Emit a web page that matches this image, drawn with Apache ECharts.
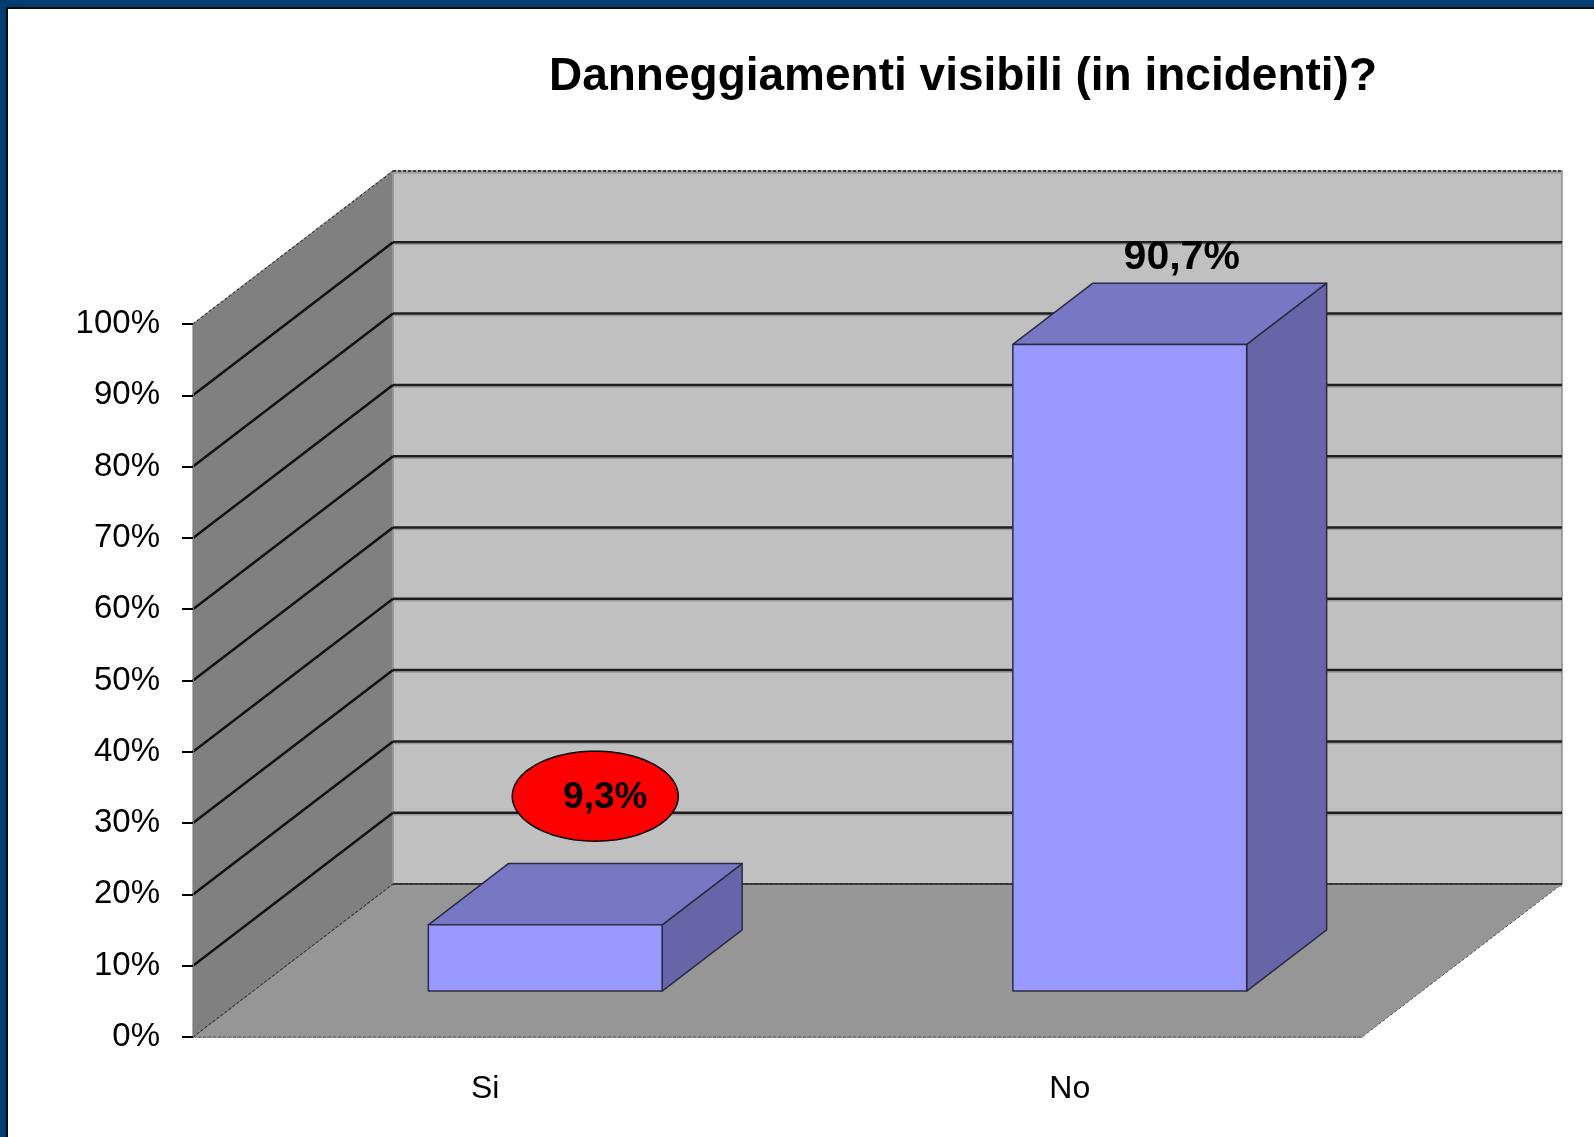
<!DOCTYPE html>
<html>
<head>
<meta charset="utf-8">
<title>Danneggiamenti visibili (in incidenti)?</title>
<script src="https://cdn.jsdelivr.net/npm/echarts/dist/echarts.min.js"></script>
<style>
html, body { margin: 0; padding: 0; background: #fff; }
#chart { position: absolute; left: 0; top: 0; width: 1594px; height: 1137px; }
#frame { position: absolute; left: 0; top: 0; width: 1594px; height: 1137px; box-sizing: border-box;
         border-top: 7px solid #003e6f; border-left: 6px solid #003e6f; pointer-events: none; }
#frame div { width: 100%; height: 100%; box-sizing: border-box; border-top: 2px solid #0a0a0a; border-left: 2px solid #0a0a0a; }
</style>
</head>
<body>
<div id="chart"></div>
<div id="frame"><div></div></div>
<script>
// dati
const categories = ['Si', 'No'];
const percentages = [9.3, 90.7];
const yTicks = [0, 10, 20, 30, 40, 50, 60, 70, 80, 90, 100];
const calloutCategory = 'Si'; // etichetta evidenziata con l'ellisse rossa

// finta prospettiva 3D (pixel)
const DX = 200, DY = -153;
const BAR_FRONT = 0.3, BAR_DEPTH = 0.4, BAR_WIDTH = 0.4;
const FONT = '"Liberation Sans", Arial, sans-serif';

function fmt(v) {
    return v.toFixed(1).replace('.', ',') + '%';
}

function renderWalls(params, api) {
    const cs = params.coordSys;
    const x0 = cs.x, x1 = cs.x + cs.width;
    const yb = api.coord([0, yTicks[0]])[1];
    const yt = api.coord([0, yTicks[yTicks.length - 1]])[1];
    return {
        type: 'group',
        children: [
            { type: 'polygon', shape: { points: [[x0 + DX, yt + DY], [x1 + DX, yt + DY], [x1 + DX, yb + DY], [x0 + DX, yb + DY]] },
              style: { fill: '#c0c0c0', stroke: '#8c8c8c', lineWidth: 1.5 } },
            { type: 'polygon', shape: { points: [[x0, yb], [x0 + DX, yb + DY], [x0 + DX, yt + DY], [x0, yt]] },
              style: { fill: '#808080', stroke: '#9a9a9a', lineWidth: 1.5 } },
            { type: 'polygon', shape: { points: [[x0, yb], [x1, yb], [x1 + DX, yb + DY], [x0 + DX, yb + DY]] },
              style: { fill: '#969696', stroke: '#555', lineWidth: 1, lineDash: [3, 2] } }
        ]
    };
}

function renderGridLines(params, api) {
    const cs = params.coordSys;
    const x0 = cs.x, x1 = cs.x + cs.width;
    const v = api.value(1);
    const y = api.coord([0, v])[1];
    const edge = v === yTicks[0] || v === yTicks[yTicks.length - 1];
    return {
        type: 'group',
        children: [
            { type: 'line', shape: { x1: x0 + DX, y1: y + DY + 2, x2: x1 + DX, y2: y + DY + 2 },
              style: { stroke: '#9a9a9a', lineWidth: 1.5 } },
            { type: 'line', shape: { x1: x0 + DX, y1: y + DY, x2: x1 + DX, y2: y + DY },
              style: { stroke: '#1e1e1e', lineWidth: edge ? 1.5 : 2.5, lineDash: v === yTicks[yTicks.length - 1] ? [3, 2] : null } },
            { type: 'line', shape: { x1: x0, y1: y, x2: x0 + DX, y2: y + DY },
              style: { stroke: edge ? '#3c3c3c' : '#111', lineWidth: edge ? 1.2 : 2.5, lineDash: edge ? [3, 2] : null } }
        ]
    };
}

function renderBars(params, api) {
    const idx = api.value(0);
    const v = api.value(1);
    const base = api.coord([idx, 0]);
    const top = api.coord([idx, v]);
    const w = api.size([1, 0])[0] * BAR_WIDTH;
    const ox = DX * BAR_FRONT, oy = DY * BAR_FRONT;
    const dx = DX * BAR_DEPTH, dy = DY * BAR_DEPTH;
    const xl = base[0] - w / 2 + ox, xr = base[0] + w / 2 + ox;
    const yt = top[1] + oy, yb = base[1] + oy;
    const edge = { stroke: '#2b2b45', lineWidth: 1.5, lineJoin: 'round' };
    const children = [
        { type: 'polygon', shape: { points: [[xr, yt], [xr, yb], [xr + dx, yb + dy], [xr + dx, yt + dy]] },
          style: Object.assign({ fill: '#6565a8' }, edge) },
        { type: 'polygon', shape: { points: [[xl, yt], [xr, yt], [xr + dx, yt + dy], [xl + dx, yt + dy]] },
          style: Object.assign({ fill: '#7777c4' }, edge) },
        { type: 'rect', shape: { x: xl, y: yt, width: xr - xl, height: yb - yt },
          style: Object.assign({ fill: '#9999ff' }, edge) }
    ];
    // centro della faccia superiore
    const cx = (xl + xr) / 2 + dx / 2, cy = yt + dy / 2;
    if (categories[params.dataIndex] === calloutCategory) {
        const ex = cx + 10, ey = cy - 98, rx = 83, ry = 45;
        const pts = [];
        for (let k = 0; k < 96; k++) {
            const a = k / 96 * Math.PI * 2;
            pts.push([ex + rx * Math.cos(a), ey + ry * Math.sin(a)]);
        }
        children.push({ type: 'polygon', shape: { points: pts }, style: { fill: '#ff0000', stroke: '#000', lineWidth: 1.5 } });
        children.push({ type: 'text', x: ex + 10, y: ey + 2,
            style: { text: fmt(v), align: 'center', verticalAlign: 'middle', fill: '#000', font: 'bold 37px ' + FONT } });
    } else {
        children.push({ type: 'text', x: cx + 12, y: cy - 56,
            style: { text: fmt(v), align: 'center', verticalAlign: 'middle', fill: '#000', font: 'bold 41px ' + FONT } });
    }
    return { type: 'group', children: children };
}

let chartDom = document.getElementById('chart');
let myChart = echarts.init(chartDom);
let option;

option = {
    backgroundColor: '#fff',
    animation: false,
    title: {
        text: 'Danneggiamenti visibili (in incidenti)?',
        left: 958,
        top: 49,
        textAlign: 'center',
        textStyle: { fontFamily: FONT, fontWeight: 'bold', fontSize: 46, color: '#000' }
    },
    grid: { left: 193, top: 324, right: 232, bottom: 100 },
    xAxis: {
        type: 'category',
        data: categories,
        z: 10,
        axisLine: { lineStyle: { color: '#777', width: 1, type: 'dotted' } },
        axisTick: { length: 11, lineStyle: { color: '#000', width: 2 } },
        axisLabel: { fontFamily: FONT, fontSize: 32, color: '#000', margin: 36 },
        splitLine: { show: false }
    },
    yAxis: {
        type: 'value',
        min: yTicks[0],
        max: yTicks[yTicks.length - 1],
        interval: 10,
        z: 10,
        axisLine: { show: true, lineStyle: { color: '#777', width: 1, type: 'dotted' } },
        axisTick: { show: true, length: 11, lineStyle: { color: '#000', width: 2 } },
        axisLabel: { formatter: '{value}%', fontFamily: FONT, fontSize: 33, color: '#000', margin: 33 },
        splitLine: { show: false }
    },
    series: [
        { type: 'custom', silent: true, clip: false, renderItem: renderWalls, data: [[0, 0]], z: 1 },
        { type: 'custom', silent: true, clip: false, renderItem: renderGridLines, data: yTicks.map(t => [0, t]), z: 2 },
        { type: 'custom', silent: true, clip: false, renderItem: renderBars, data: percentages.map((p, i) => [i, p]), z: 3 }
    ]
};

option && myChart.setOption(option);
</script>
</body>
</html>
